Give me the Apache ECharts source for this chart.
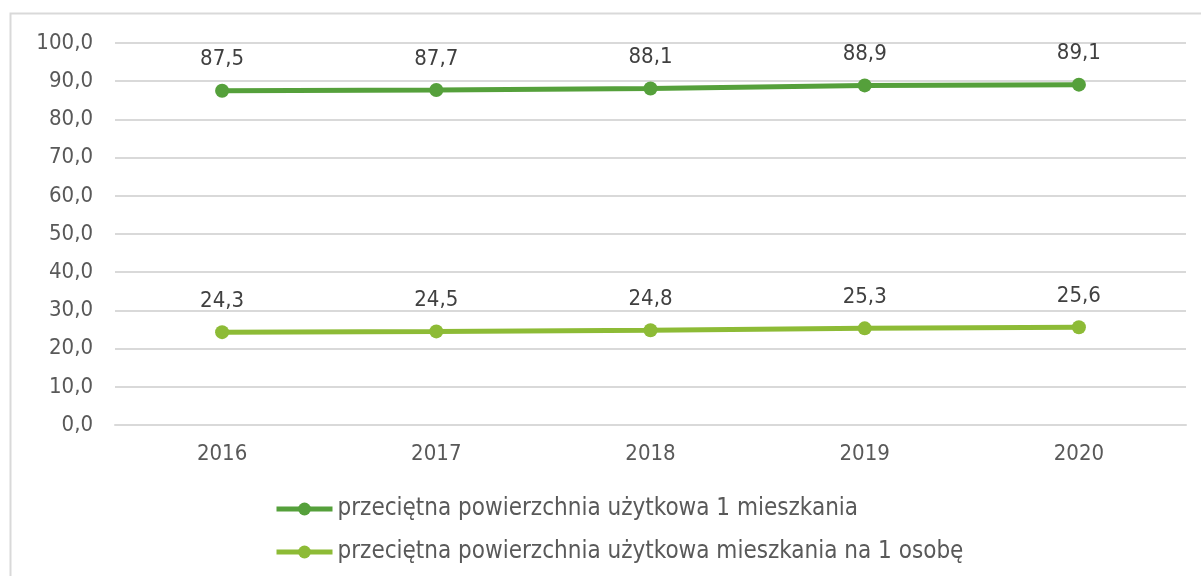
<!DOCTYPE html>
<html>
<head>
<meta charset="utf-8">
<script src="https://cdn.jsdelivr.net/npm/echarts@6/dist/echarts.min.js"></script>
<style>
  html, body { margin: 0; padding: 0; background: #fff; }
  #chart { width: 1201px; height: 576px; }
</style>
</head>
<body>
<div id="chart"></div>
<script>
// data
var years = ['2016', '2017', '2018', '2019', '2020'];
var perDwelling = [87.5, 87.7, 88.1, 88.9, 89.1];
var perPerson = [24.3, 24.5, 24.8, 25.3, 25.6];
var seriesNames = [
    'przeciętna powierzchnia użytkowa 1 mieszkania',
    'przeciętna powierzchnia użytkowa mieszkania na 1 osobę'
];

var font = 'DejaVu Sans Condensed';

function comma(v) {
    return Number(v).toFixed(1).replace('.', ',');
}

var chart = echarts.init(document.getElementById('chart'));

var option = {
    backgroundColor: '#fff',
    animation: false,
    graphic: [
        {
            type: 'rect',
            shape: { x: 10.5, y: 13.5, width: 1200, height: 600 },
            style: { fill: 'none', stroke: '#d9d9d9', lineWidth: 2 },
            silent: true
        }
    ],
    grid: {
        left: 115,
        right: 15,
        top: 43,
        bottom: 151
    },
    legend: {
        orient: 'vertical',
        left: 269,
        top: 492,
        itemWidth: 56,
        itemHeight: 16,
        itemGap: 19,
        data: seriesNames,
        lineStyle: { width: 5 },
        textStyle: {
            fontFamily: font,
            fontSize: 24,
            color: '#595959'
        }
    },
    xAxis: {
        type: 'category',
        data: years,
        axisLine: { lineStyle: { color: '#d9d9d9', width: 2 } },
        axisTick: { show: false },
        axisLabel: {
            margin: 18,
            fontFamily: font,
            fontSize: 22,
            color: '#595959'
        }
    },
    yAxis: {
        type: 'value',
        min: 0,
        max: 100,
        interval: 10,
        axisLine: { show: false },
        axisTick: { show: false },
        splitLine: { lineStyle: { color: '#d9d9d9', width: 2 } },
        axisLabel: {
            margin: 22,
            fontFamily: font,
            fontSize: 22,
            color: '#595959',
            formatter: comma
        }
    },
    series: [
        {
            name: seriesNames[0],
            type: 'line',
            data: perDwelling,
            symbol: 'circle',
            symbolSize: 14,
            lineStyle: { width: 5, color: '#55a03b' },
            itemStyle: { color: '#55a03b' },
            label: {
                show: true,
                position: 'top',
                distance: 13,
                fontFamily: font,
                fontSize: 22,
                color: '#404040',
                formatter: function (p) { return comma(p.value); }
            }
        },
        {
            name: seriesNames[1],
            type: 'line',
            data: perPerson,
            symbol: 'circle',
            symbolSize: 14,
            lineStyle: { width: 5, color: '#8dbb36' },
            itemStyle: { color: '#8dbb36' },
            label: {
                show: true,
                position: 'top',
                distance: 13,
                fontFamily: font,
                fontSize: 22,
                color: '#404040',
                formatter: function (p) { return comma(p.value); }
            }
        }
    ]
};

chart.setOption(option);
</script>
</body>
</html>
